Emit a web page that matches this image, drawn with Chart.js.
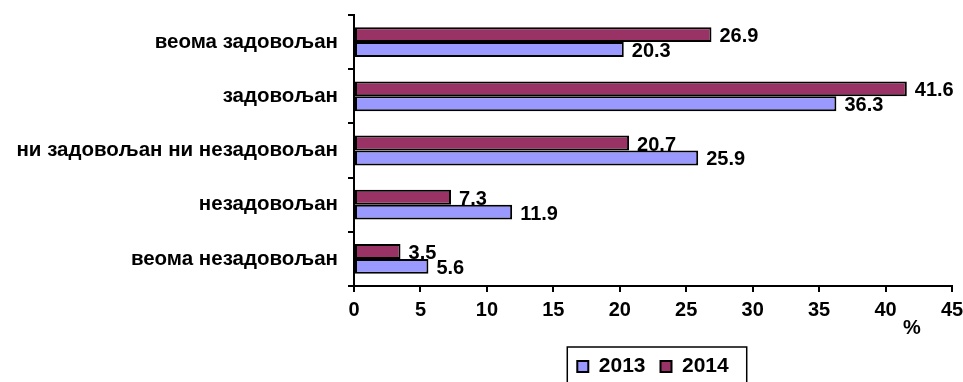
<!DOCTYPE html>
<html>
<head>
<meta charset="utf-8">
<script src="https://cdn.jsdelivr.net/npm/chart.js@4.4.0/dist/chart.umd.min.js"></script>
<style>
  html, body { margin: 0; padding: 0; background: #fff; overflow: hidden; }
  #wrap { width: 963px; height: 382px; overflow: hidden; }
</style>
</head>
<body>
<div id="wrap"><canvas id="chartZadovoljstvo" width="963" height="387"></canvas></div>
<script>
// Категорије (одозго надоле)
const kategorije = ['веома задовољан', 'задовољан', 'ни задовољан ни незадовољан', 'незадовољан', 'веома незадовољан'];
const vrednosti2013 = [20.3, 36.3, 25.9, 11.9, 5.6];
const vrednosti2014 = [26.9, 41.6, 20.7, 7.3, 3.5];
const xTicks = [0, 5, 10, 15, 20, 25, 30, 35, 40, 45];

const FONT = "'Liberation Sans', Arial, sans-serif";

// vrednosti na kraju bara
const oznakePlugin = {
    id: 'oznake',
    afterDatasetsDraw(chart) {
        const ctx = chart.ctx;
        ctx.save();
        ctx.font = 'bold 20px ' + FONT;
        ctx.fillStyle = '#000';
        ctx.textAlign = 'left';
        ctx.textBaseline = 'middle';
        chart.data.datasets.forEach((ds, i) => {
            chart.getDatasetMeta(i).data.forEach((bar, j) => {
                ctx.fillText(ds.data[j].toFixed(1), bar.x + 8, bar.y + 2);
            });
        });
        // oznaka jedinice na x osi
        const xs = chart.scales.x;
        ctx.textAlign = 'center';
        ctx.fillText('%', xs.right - 40, xs.top + 42);
        ctx.restore();
    },
    afterDraw(chart) {
        // okvir legende
        const boxes = chart.legend.legendHitBoxes;
        if (!boxes || !boxes.length) return;
        const first = boxes[0], last = boxes[boxes.length - 1];
        const ctx = chart.ctx;
        ctx.save();
        ctx.strokeStyle = '#000';
        ctx.lineWidth = 1.5;
        ctx.strokeRect(first.left - 10, first.top - 9, last.left + last.width + 18 - (first.left - 10), 60);
        ctx.restore();
    }
};

const ctxZad = document.getElementById('chartZadovoljstvo').getContext('2d');
new Chart(ctxZad, {
    type: 'bar',
    data: {
        labels: kategorije,
        datasets: [{
            label: '2014',
            data: vrednosti2014,
            backgroundColor: '#993366',
            borderColor: '#000',
            borderWidth: 2,
            borderSkipped: false
        }, {
            label: '2013',
            data: vrednosti2013,
            backgroundColor: '#9999FF',
            borderColor: '#000',
            borderWidth: 2,
            borderSkipped: false
        }]
    },
    options: {
        indexAxis: 'y',
        responsive: false,
        animation: false,
        layout: { padding: { top: 15, right: 11, left: 0, bottom: 0 } },
        datasets: { bar: { barPercentage: 1, categoryPercentage: 0.55 } },
        scales: {
            x: {
                min: 0,
                max: 45,
                afterBuildTicks: (s) => { s.ticks = xTicks.map(v => ({ value: v })); },
                afterFit: (s) => { s.height = 55; s.paddingLeft = 0; s.paddingRight = 0; },
                grid: { drawOnChartArea: false, color: '#000', lineWidth: 2, tickLength: 6 },
                border: { color: '#000', width: 2 },
                ticks: { color: '#000', font: { family: FONT, size: 20, weight: 'bold' }, padding: 6, maxRotation: 0 }
            },
            y: {
                afterFit: (s) => { s.width = 354; s.paddingTop = 0; s.paddingBottom = 0; },
                grid: { drawOnChartArea: false, color: '#000', lineWidth: 2, tickLength: 6, offset: true },
                border: { color: '#000', width: 2 },
                ticks: { color: '#000', font: { family: FONT, size: 20.5, weight: 'bold' }, padding: 10 }
            }
        },
        plugins: {
            legend: {
                display: true,
                position: 'bottom',
                fullSize: false,
                labels: {
                    color: '#000',
                    font: { family: FONT, size: 21, weight: 'bold' },
                    boxWidth: 11,
                    boxHeight: 11,
                    padding: 15,
                    sort: (a, b) => b.datasetIndex - a.datasetIndex
                }
            },
            tooltip: { enabled: false }
        }
    },
    plugins: [oznakePlugin]
});
</script>
</body>
</html>
